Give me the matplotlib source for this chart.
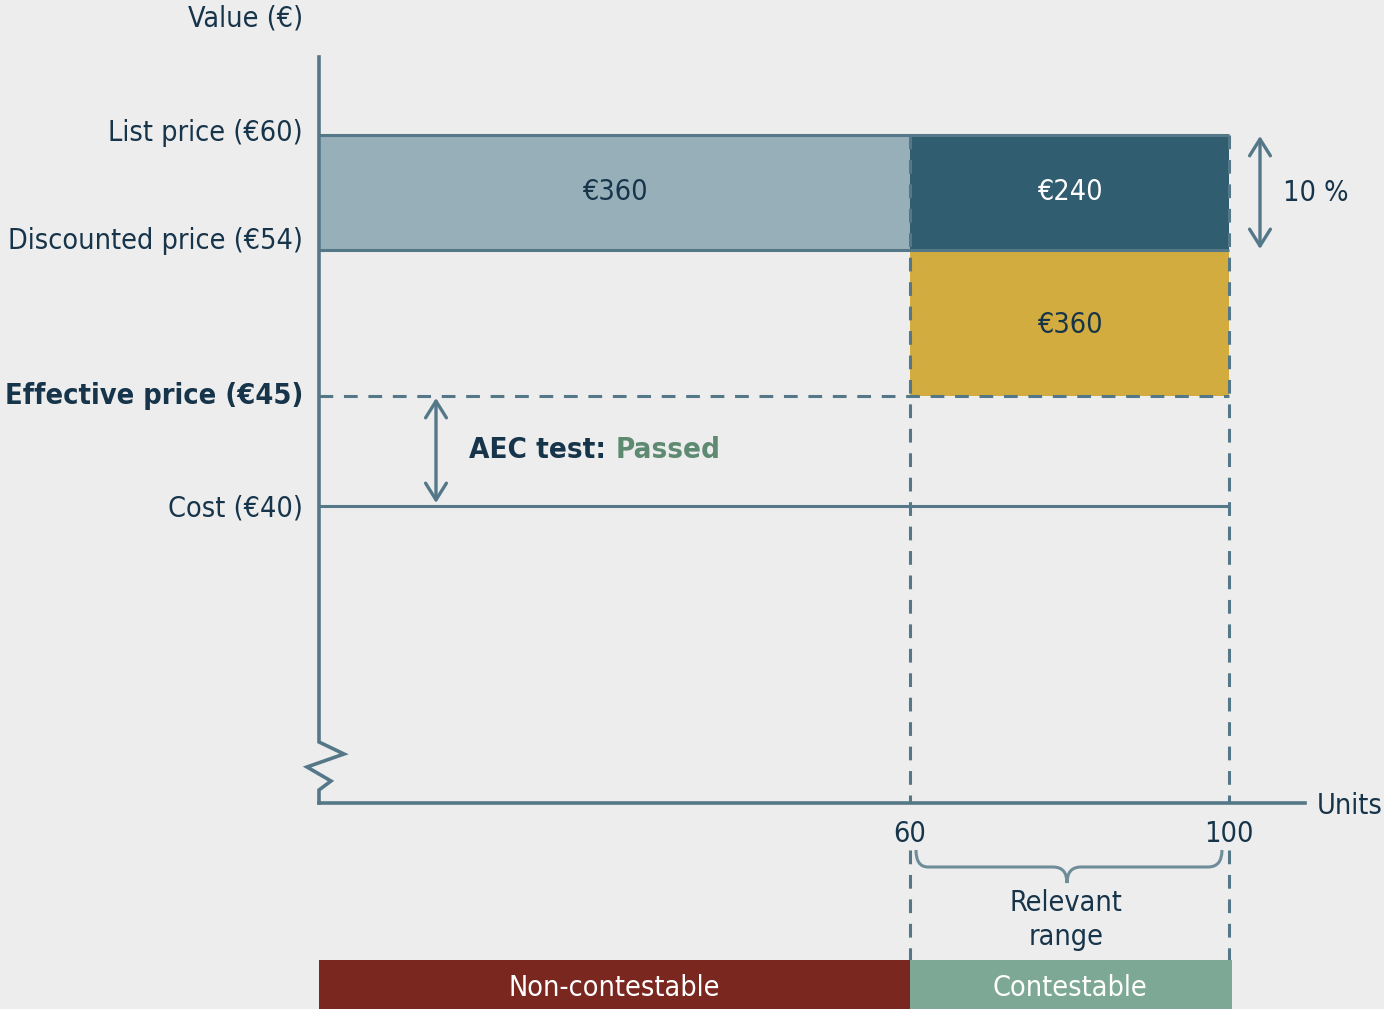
import numpy as np
import matplotlib
matplotlib.use("Agg")
import matplotlib.pyplot as plt
from matplotlib.patches import Rectangle
from matplotlib.path import Path
from matplotlib.patches import PathPatch

# ---------------- data ----------------
units_split = [0, 60, 100]            # units: non-contestable 0-60, contestable 60-100
price_levels = [60, 54, 45, 40]       # list, discounted, effective, cost
price_labels = ["List price (€60)", "Discounted price (€54)",
                "Effective price (€45)", "Cost (€40)"]
block_values = ["€360", "€240", "€360"]  # rebate blocks
x_tick_values = [60, 100]
x_tick_labels = ["60", "100"]
segment_labels = ["Non-contestable", "Contestable"]
discount_label = "10 %"

# ---------------- style ----------------
BG = "#ededed"
NAVY = "#16344a"
LINE = "#557888"
LIGHT = "#97afb9"
DARK = "#305d70"
GOLD = "#d2ac3e"
RED = "#7a271f"
GREEN = "#7ea896"
PASS = "#5e8a72"
plt.rcParams["font.family"] = ["DejaVu Sans"]
plt.rcParams["font.stretch"] = "condensed"

W, H = 1384, 1009
fig = plt.figure(figsize=(W / 100, H / 100), dpi=100, facecolor=BG)

# schematic (piecewise-linear) scales anchored to the drawing
XV = np.array([0.0, 60.0, 100.0]); XP = np.array([319.0, 910.0, 1229.0])
YV = np.array([0.0, 40.0, 45.0, 54.0, 60.0]); YP = H - np.array([803.0, 506.0, 396.0, 250.0, 135.0])

def pw(v, a, b):
    v = np.asarray(v, dtype=float)
    out = np.interp(v, a, b)
    lo = v < a[0]; hi = v > a[-1]
    s0 = (b[1] - b[0]) / (a[1] - a[0]); s1 = (b[-1] - b[-2]) / (a[-1] - a[-2])
    out = np.where(lo, b[0] + (v - a[0]) * s0, out)
    out = np.where(hi, b[-1] + (v - a[-1]) * s1, out)
    return out

ax = fig.add_axes([0, 0, 1, 1])
ax.set_facecolor("none")
ax.set_xscale("function", functions=(lambda v: pw(v, XV, XP), lambda p: pw(p, XP, XV)))
ax.set_yscale("function", functions=(lambda v: pw(v, YV, YP), lambda p: pw(p, YP, YV)))
ax.set_xlim(float(pw(0, XP, XV)), float(pw(W, XP, XV)))
ax.set_ylim(float(pw(0, YP, YV)), float(pw(H, YP, YV)))
ax.axis("off")

# pixel overlay for axis furniture
deco = fig.add_axes([0, 0, 1, 1])
deco.set_facecolor("none")
deco.set_xlim(0, W); deco.set_ylim(H, 0)
deco.axis("off")

x0, x60, x100 = units_split
p_list, p_disc, p_eff, p_cost = price_levels

def ypx(p):
    return float(pw(H - p, YP, YV))

# blocks
ax.add_patch(Rectangle((x0, p_disc), x60 - x0, p_list - p_disc, fc=LIGHT, ec="none", zorder=1))
ax.add_patch(Rectangle((x60, p_disc), x100 - x60, p_list - p_disc, fc=DARK, ec="none", zorder=1))
ax.add_patch(Rectangle((x60, p_eff), x100 - x60, p_disc - p_eff, fc=GOLD, ec="none", zorder=1))

fs = 20.6
ax.text((x0 + x60) / 2, ypx(192), block_values[0], ha="center", va="center",
        color=NAVY, fontsize=fs, zorder=3)
ax.text((x60 + x100) / 2, ypx(192), block_values[1], ha="center", va="center",
        color="white", fontsize=fs, zorder=3)
ax.text((x60 + x100) / 2, ypx(325), block_values[2], ha="center", va="center",
        color=NAVY, fontsize=fs, zorder=3)

lw = 2.2
dash = (0, (4.5, 3.5))
# horizontal price lines
ax.plot([x0, x100], [p_list, p_list], color=LINE, lw=lw, zorder=2, solid_capstyle="butt")
ax.plot([x0, x100], [p_disc, p_disc], color=LINE, lw=lw, zorder=2, solid_capstyle="butt")
ax.plot([x0, x100], [p_eff, p_eff], color=LINE, lw=lw, ls=dash, zorder=2)
ax.plot([x0, x100], [p_cost, p_cost], color=LINE, lw=lw, zorder=2, solid_capstyle="butt")

# vertical dashed lines at 60 and 100
for xv in (x60, x100):
    ax.plot([xv, xv], [p_list, 0], color=LINE, lw=lw, ls=dash, zorder=4)
    ax.plot([xv, xv], [ypx(850), ypx(960)], color=LINE, lw=lw, ls=dash, zorder=4)

# axes lines + break zigzag
deco.plot([319, 319, 344, 307, 331, 319, 319], [57, 742, 754, 767, 781, 790, 803],
          color=LINE, lw=2.6, solid_joinstyle="miter", zorder=5)
deco.plot([319, 1305], [803, 803], color=LINE, lw=2.6, zorder=5)

# y labels
label_px = [133, 241, 396, 508]
for lab, yp in zip(price_labels, label_px):
    bold = lab.startswith("Effective")
    deco.text(303, yp, lab, ha="right", va="center", color=NAVY,
              fontsize=fs + (0.2 if bold else 0), fontweight="bold" if bold else "normal")
deco.text(303, 19, "Value (€)", ha="right", va="center", color=NAVY, fontsize=fs)
deco.text(1317, 806, "Units", ha="left", va="center", color=NAVY, fontsize=fs)

# x tick labels
for xv, lab in zip(x_tick_values, x_tick_labels):
    ax.text(xv, ypx(834), lab, ha="center", va="center", color=NAVY, fontsize=fs)

# brace
bx0, bx1, bmid = 916, 1222, 1067
by0, by1, btip = 850, 867, 883
verts = [(bx0, by0), (bx0, by1), (bx0 + 12, by1), (bx0 + 14, by1),
         (bmid - 14, by1), (bmid - 14, by1), (bmid, by1), (bmid, btip),
         (bmid, by1), (bmid + 14, by1), (bmid + 14, by1),
         (bx1 - 14, by1), (bx1, by1), (bx1, by0)]
codes = [Path.MOVETO, Path.CURVE3, Path.CURVE3, Path.LINETO,
         Path.LINETO, Path.LINETO, Path.CURVE3, Path.CURVE3,
         Path.CURVE3, Path.CURVE3, Path.LINETO,
         Path.LINETO, Path.CURVE3, Path.CURVE3]
deco.add_patch(PathPatch(Path(verts, codes), fc="none", ec="#6f8c99", lw=2.2))
deco.text(1066, 920, "Relevant\nrange", ha="center", va="center", color=NAVY, fontsize=fs,
          linespacing=1.25)

# segment bars
tr = ax.get_xaxis_transform()
seg_h = (H - 960) / H
ax.add_patch(Rectangle((x0, 0), x60 - x0, seg_h, transform=tr, fc=RED, ec="none", zorder=6))
ax.add_patch(Rectangle((x60, 0), x100 - x60 + 0.35, seg_h, transform=tr, fc=GREEN, ec="none", zorder=6))
ax.text((x0 + x60) / 2, seg_h / 2 - 0.003, segment_labels[0], transform=tr, ha="center", va="center",
        color="white", fontsize=fs, zorder=7)
ax.text((x60 + x100) / 2, seg_h / 2 - 0.003, segment_labels[1], transform=tr, ha="center", va="center",
        color="white", fontsize=fs, zorder=7)

# arrows
arr = dict(arrowstyle="<->,head_length=1.2,head_width=0.75", color=LINE, lw=2.4,
           shrinkA=0, shrinkB=0)
deco.annotate("", xy=(1260, 136), xytext=(1260, 249), arrowprops=arr)
deco.text(1283, 193, discount_label, ha="left", va="center", color=NAVY, fontsize=fs)
deco.annotate("", xy=(436, 398), xytext=(436, 503), arrowprops=arr)

t1 = deco.text(469, 450, "AEC test: ", ha="left", va="center", color=NAVY, fontsize=fs + 0.6,
               fontweight="bold")
deco.annotate("Passed", xy=(1, 0.5), xycoords=t1, ha="left", va="center", color=PASS,
              fontsize=fs + 0.6, fontweight="bold")

fig.savefig("out.png", dpi=100, facecolor=BG)
